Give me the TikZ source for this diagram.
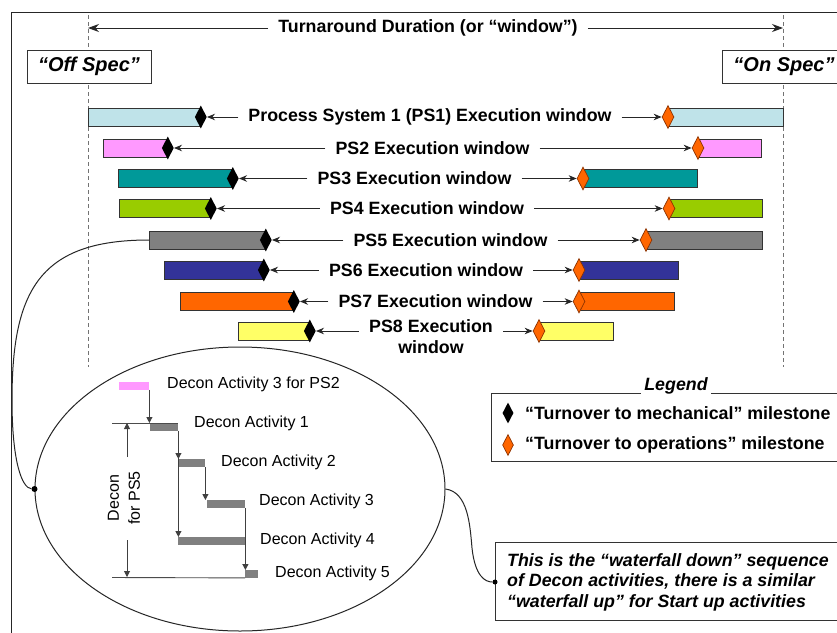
\documentclass[tikz,border=0pt]{standalone}
\usepackage{fontspec}
\setmainfont{Liberation Sans}
\usetikzlibrary{arrows.meta,shapes.geometric}
\definecolor{c1}{RGB}{191,227,233}
\definecolor{c2}{RGB}{255,153,255}
\definecolor{c3}{RGB}{0,153,153}
\definecolor{c4}{RGB}{153,204,0}
\definecolor{c5}{RGB}{128,128,128}
\definecolor{c6}{RGB}{51,51,153}
\definecolor{c7}{RGB}{255,102,0}
\definecolor{c8}{RGB}{255,255,102}
\definecolor{odraw}{RGB}{140,50,0}
\newcommand\lblfont{\fontsize{17.8}{21}\selectfont\bfseries}
\newcommand\specfont{\fontsize{20}{24}\selectfont\bfseries\itshape}
\newcommand\smfont{\fontsize{16}{21}\selectfont}
\begin{document}
\begin{tikzpicture}[x=1pt,y=-1pt,
  frameline/.style={draw=black!85,line width=1pt},
  guide/.style={draw=black!55,line width=0.9pt,dash pattern=on 4pt off 3pt},
  bar/.style={draw=black!80,line width=0.8pt,minimum height=18pt,inner sep=0pt,anchor=west},
  mdia/.style={diamond,fill=black,inner sep=0pt,minimum width=12pt,minimum height=23pt},
  odia/.style={diamond,fill=c7,draw=odraw,line width=0.7pt,inner sep=0pt,minimum width=12pt,minimum height=23pt},
  lbl/.style={font=\lblfont,inner sep=0pt,align=center},
  marr/.style={draw=black!85,line width=0.9pt,-{Stealth[length=8pt,width=6.5pt]}},
  tarr/.style={draw=black!85,line width=0.9pt,-{Stealth[length=11pt,width=8pt]}},
  specbox/.style={draw=black!80,fill=white,line width=0.9pt,font=\specfont,minimum width=124pt,minimum height=33pt,inner sep=0pt},
  conn/.style={draw=black!85,line width=1pt},
  act/.style={fill=c5,inner sep=0pt,minimum height=7.5pt,anchor=north west},
  iarr/.style={draw=black!75,line width=0.9pt,-{Triangle[length=6pt,width=6pt]}},
  iline/.style={draw=black!70,line width=0.9pt},
  itext/.style={font=\smfont,inner sep=0pt,anchor=west},
  dot/.style={circle,fill=black,inner sep=0pt,minimum size=6pt}]
\useasboundingbox (0,0) rectangle (837,632);
\clip (0,0) rectangle (837,632);
\fill[white] (0,0) rectangle (837,632);
% frame
\draw[frameline] (860,12) -- (11,12) -- (11,640);
% guides
\coordinate (gl1) at (88,15);
\coordinate (gl2) at (88,367);
\coordinate (gr1) at (783,15);
\coordinate (gr2) at (783,367);
\draw[guide] (gl1) -- (gl2);
\draw[guide] (gr1) -- (gr2);
% title
\node[lbl] (title) at (428,28) {Turnaround Duration (or “window”)};
\draw[tarr] ([xshift=-10pt]title.west) -- (title.west -| gl1);
\draw[tarr] ([xshift=10pt]title.east) -- (title.east -| gr1);
% spec boxes
\node[specbox] (off) at (89,66.5) {“Off Spec”};
\node[specbox] (on) at (784,67) {“On Spec”};
% bars
\foreach \i/\y/\xa/\xb/\xc/\xd/\tc/\ty/\tx in {
  1/117/88/200/668/783/430/117/{Process System 1 (PS1) Execution window},
  2/148/103/167/698/761/432.5/148/{PS2 Execution window},
  3/178.5/118/232/583/697/414.5/178.5/{PS3 Execution window},
  4/208.5/119/210/669/762/427/208.5/{PS4 Execution window},
  5/240/149/265/646/762/450.5/240/{PS5 Execution window},
  6/270/164/263/579/678/426/270/{PS6 Execution window},
  7/301.5/180/293/579/674/435.5/301.5/{PS7 Execution window},
  8/331/238/309/539/613/431/337/{PS8 Execution\\window}}
{
  \node[bar,fill=c\i,minimum width={(\xb-\xa)*1pt}] (bl\i) at (\xa,\y) {};
  \node[bar,fill=c\i,minimum width={(\xd-\xc)*1pt}] (br\i) at (\xc,\y) {};
  \node[mdia] (bd\i) at (bl\i.east) {};
  \node[odia] (od\i) at (br\i.west) {};
  \node[lbl] (t\i) at (\tc,\ty) {\tx};
  \draw[marr] ([xshift=-10pt]t\i.west |- bd\i) -- (bd\i.east);
  \draw[marr] ([xshift=10pt]t\i.east |- od\i) -- (od\i.west);
}
% legend
\draw[draw=black!80,line width=0.9pt] (491,393) rectangle (860,461);
\node[fill=white,inner xsep=3pt,inner ysep=1pt,font=\lblfont\itshape] (leg) at (676,386) {Legend};
\node[mdia,minimum width=11pt,minimum height=21pt] (lm) at (508,413) {};
\node[odia,minimum width=11pt,minimum height=21pt] (lo) at (508,445) {};
\node[lbl,anchor=west] (lmt) at (525,413) {“Turnover to mechanical” milestone};
\node[lbl,anchor=west] (lot) at (525,445) {“Turnover to operations” milestone};
% note box
\draw[draw=black!80,line width=0.9pt] (495,542) rectangle (860,620);
\coordinate (tbw) at (495,582);
\node[lbl,anchor=west,align=left,font=\fontsize{17.8}{20.5}\selectfont\bfseries\itshape] (note) at (507,582)
  {This is the “waterfall down” sequence\\of Decon activities, there is a similar\\“waterfall up” for Start up activities};
% ellipse
\node[draw=black!85,line width=1pt,ellipse,minimum width=410pt,minimum height=284pt,inner sep=0pt] (ell) at (240,489) {};
\node[dot] (d1) at (ell.west) {};
\node[dot,minimum size=5pt] (d2) at (tbw) {};
\draw[conn] (bl5.west) .. controls (40,240) and (12,290) .. (12,400) .. controls (12,462) and (22,488) .. (d1);
\draw[conn] (ell.east) .. controls (468,492) and (470,525) .. (472,548) .. controls (475,576) and (485,582) .. (d2);
% decon waterfall
\node[act,fill=c2,minimum width=30pt] (a0) at (119,382) {};
\node[act,minimum width=28pt] (a1) at (150,423) {};
\node[act,minimum width=27pt] (a2) at (178,459) {};
\node[act,minimum width=38pt] (a3) at (207,500) {};
\node[act,minimum width=67pt] (a4) at (178,537) {};
\node[act,minimum width=13pt] (a5) at (245,570) {};
\node[itext] (x0) at (167,384) {Decon Activity 3 for PS2};
\node[itext] (x1) at (194,423) {Decon Activity 1};
\node[itext] (x2) at (221,462) {Decon Activity 2};
\node[itext] (x3) at (259,501) {Decon Activity 3};
\node[itext] (x4) at (260,540) {Decon Activity 4};
\node[itext] (x5) at (275,573) {Decon Activity 5};
\coordinate (ltop) at (112,423);
\coordinate (lbot) at (112,577.5);
\draw[iline] (ltop) -- (a1.north east);
\draw[iline] (lbot) -- (a5.south west);
\draw[iarr] (a0.south east) -- (a0.south east |- a1.north);
\draw[iarr] (a1.south east) -- (a1.south east |- a2.north);
\draw[iarr] (a1.south east) -- (a1.south east |- a4.north);
\draw[iarr] (a2.south east) -- (a2.south east |- a3.north);
\draw[iarr,line width=1.2pt] (a3.south east) -- (a3.south east |- a5.north);
% dimension
\node[rotate=90,font=\smfont,align=center,inner sep=0pt] (dim) at (124,498) {Decon\\for PS5};
\coordinate (dt1) at (127,457);
\coordinate (dt2) at (127,423);
\coordinate (db1) at (127,540);
\coordinate (db2) at (127,577);
\draw[iarr] (dt1) -- (dt2);
\draw[iarr] (db1) -- (db2);
\end{tikzpicture}
\end{document}
